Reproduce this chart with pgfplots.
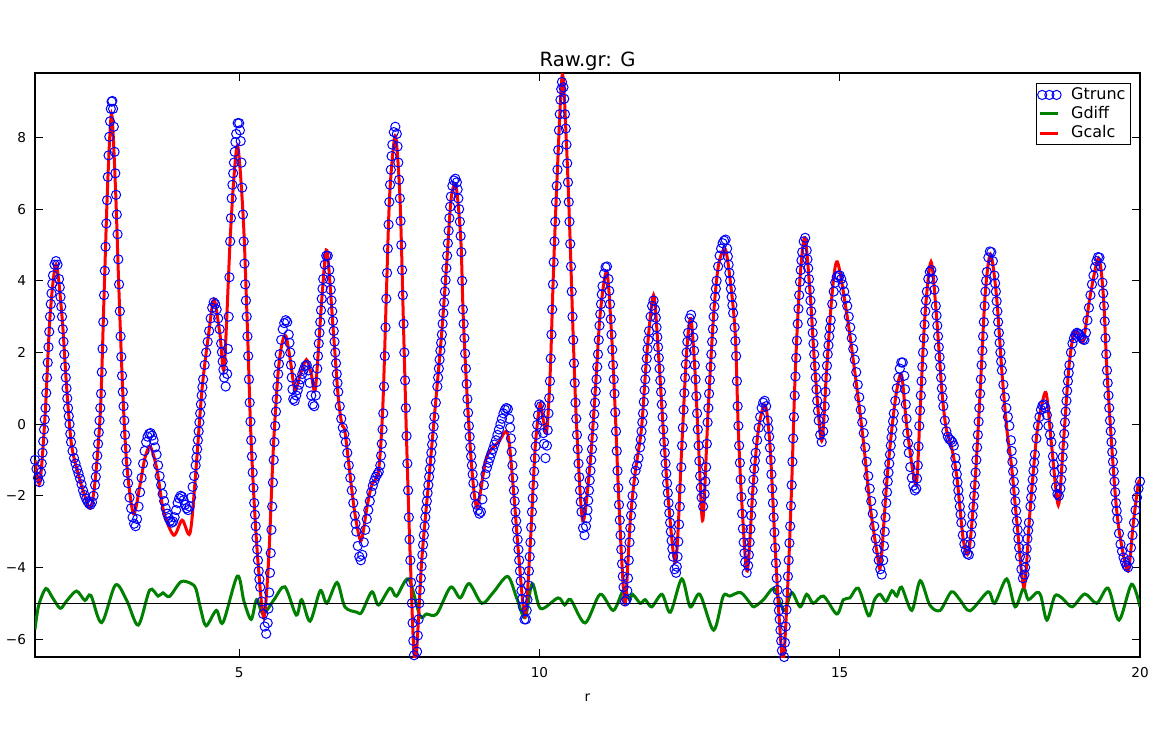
\documentclass[border=0pt]{standalone}
\usepackage{fontspec}
\setmainfont{DejaVu Sans}
\usepackage{pgfplots}
\usepackage{pgfplotstable}
\pgfplotsset{compat=1.18}

\definecolor{mplblue}{rgb}{0,0,1}
\definecolor{mplgreen}{rgb}{0,0.5,0}
\definecolor{mplred}{rgb}{1,0,0}

\pgfplotsset{
    circlegend/.style={legend image code/.code={\draw[##1, only marks] plot coordinates {(0.9bp,0bp) (4.5bp,0bp) (8.1bp,0bp)};}},
    linelegend/.style={legend image code/.code={\draw[##1] (0bp,0bp) -- (9bp,0bp);}},
}

% Gtrunc on a 0.025 grid
\pgfplotstableread{
r G
1.600 -1.00
1.625 -1.25
1.650 -1.50
1.675 -1.62
1.700 -1.35
1.725 -0.80
1.750 -0.15
1.775 0.45
1.800 1.30
1.825 2.15
1.850 3.00
1.875 3.65
1.900 4.15
1.925 4.45
1.950 4.55
1.975 4.45
2.000 4.05
2.025 3.55
2.050 3.00
2.075 2.30
2.100 1.60
2.125 1.00
2.150 0.45
2.175 0.00
2.200 -0.50
2.225 -0.75
2.250 -0.95
2.275 -1.10
2.300 -1.25
2.325 -1.38
2.350 -1.52
2.375 -1.68
2.400 -1.85
2.425 -1.98
2.450 -2.08
2.475 -2.16
2.500 -2.22
2.525 -2.25
2.550 -2.18
2.575 -2.00
2.600 -1.70
2.625 -1.20
2.650 -0.55
2.675 0.10
2.700 0.85
2.725 2.10
2.750 3.60
2.775 4.95
2.800 6.25
2.825 7.50
2.850 8.45
2.875 9.00
2.900 8.80
2.925 7.60
2.950 6.40
2.975 5.30
3.000 3.90
3.025 2.45
3.050 1.35
3.075 0.50
3.100 -0.30
3.125 -1.05
3.150 -1.65
3.175 -2.05
3.200 -2.35
3.225 -2.60
3.250 -2.78
3.275 -2.85
3.300 -2.65
3.325 -2.30
3.350 -1.90
3.375 -1.50
3.400 -1.10
3.425 -0.75
3.450 -0.50
3.475 -0.35
3.500 -0.27
3.525 -0.25
3.550 -0.32
3.575 -0.45
3.600 -0.65
3.625 -0.85
3.650 -1.15
3.675 -1.45
3.700 -1.70
3.725 -1.95
3.750 -2.15
3.775 -2.35
3.800 -2.50
3.825 -2.62
3.850 -2.70
3.875 -2.75
3.900 -2.72
3.925 -2.60
3.950 -2.40
3.975 -2.20
4.000 -2.07
4.025 -2.00
4.050 -2.03
4.075 -2.12
4.100 -2.25
4.125 -2.35
4.150 -2.40
4.175 -2.30
4.200 -2.05
4.225 -1.75
4.250 -1.45
4.275 -1.15
4.300 -0.70
4.325 -0.20
4.350 0.30
4.375 0.80
4.400 1.25
4.425 1.65
4.450 2.00
4.475 2.30
4.500 2.60
4.525 2.95
4.550 3.25
4.575 3.40
4.600 3.35
4.625 3.20
4.650 2.95
4.675 2.65
4.700 2.25
4.725 1.75
4.750 1.30
4.775 1.05
4.800 1.40
4.825 3.00
4.850 5.10
4.875 6.30
4.900 7.00
4.925 7.60
4.950 8.10
4.975 8.40
5.000 8.40
5.025 7.90
5.050 6.60
5.075 5.10
5.100 3.90
5.125 3.00
5.150 1.90
5.175 0.60
5.200 -0.45
5.225 -1.35
5.250 -2.20
5.275 -2.85
5.300 -3.50
5.325 -4.10
5.350 -4.55
5.375 -4.95
5.400 -5.30
5.425 -5.65
5.450 -5.85
5.475 -5.55
5.500 -4.70
5.525 -3.60
5.550 -2.30
5.575 -1.00
5.600 -0.05
5.625 0.70
5.650 1.40
5.675 1.95
5.700 2.35
5.725 2.65
5.750 2.82
5.775 2.90
5.800 2.85
5.825 2.50
5.850 2.00
5.875 1.30
5.900 0.70
5.925 0.65
5.950 0.80
5.975 0.95
6.000 1.10
6.025 1.25
6.050 1.40
6.075 1.52
6.100 1.62
6.125 1.65
6.150 1.50
6.175 1.15
6.200 0.80
6.225 0.55
6.250 0.50
6.275 0.80
6.300 1.55
6.325 2.25
6.350 2.85
6.375 3.50
6.400 4.05
6.425 4.45
6.450 4.70
6.475 4.70
6.500 4.30
6.525 3.75
6.550 3.15
6.575 2.60
6.600 2.00
6.625 1.40
6.650 0.90
6.675 0.50
6.700 0.15
6.725 -0.10
6.750 -0.28
6.775 -0.50
6.800 -0.80
6.825 -1.15
6.850 -1.50
6.875 -1.85
6.900 -2.20
6.925 -2.55
6.950 -3.00
6.975 -3.40
7.000 -3.70
7.025 -3.80
7.050 -3.65
7.075 -3.30
7.100 -2.95
7.125 -2.65
7.150 -2.40
7.175 -2.15
7.200 -1.90
7.225 -1.72
7.250 -1.58
7.275 -1.47
7.300 -1.40
7.325 -1.33
7.350 -1.15
7.375 -0.55
7.400 0.30
7.425 1.90
7.450 3.50
7.475 4.90
7.500 6.20
7.525 7.10
7.550 7.80
7.575 8.15
7.600 8.30
7.625 8.10
7.650 7.30
7.675 6.30
7.700 5.00
7.725 3.60
7.750 2.00
7.775 0.45
7.800 -1.10
7.825 -2.60
7.850 -3.80
7.875 -5.00
7.900 -6.05
7.925 -6.75
7.950 -6.70
7.975 -5.90
8.000 -5.00
8.025 -4.30
8.050 -3.65
8.075 -3.10
8.100 -2.60
8.125 -2.15
8.150 -1.70
8.175 -1.25
8.200 -0.80
8.225 -0.35
8.250 0.20
8.275 0.60
8.300 1.05
8.325 1.55
8.350 2.05
8.375 2.50
8.400 3.10
8.425 3.70
8.450 4.35
8.475 5.05
8.500 5.75
8.525 6.35
8.550 6.65
8.575 6.80
8.600 6.85
8.625 6.75
8.650 6.30
8.675 5.65
8.700 4.80
8.725 3.20
8.750 2.40
8.775 1.55
8.800 0.70
8.825 -0.05
8.850 -0.65
8.875 -1.15
8.900 -1.65
8.925 -2.00
8.950 -2.25
8.975 -2.40
9.000 -2.50
9.025 -2.45
9.050 -2.10
9.075 -1.70
9.100 -1.40
9.125 -1.22
9.150 -1.08
9.175 -0.95
9.200 -0.82
9.225 -0.70
9.250 -0.57
9.275 -0.45
9.300 -0.30
9.325 -0.15
9.350 0.00
9.375 0.15
9.400 0.30
9.425 0.40
9.450 0.45
9.475 0.42
9.500 0.15
9.525 -0.40
9.550 -1.15
9.575 -1.85
9.600 -2.45
9.625 -2.95
9.650 -3.50
9.675 -4.10
9.700 -4.65
9.725 -5.10
9.750 -5.45
9.775 -5.45
9.800 -4.90
9.825 -4.10
9.850 -3.30
9.875 -2.45
9.900 -1.70
9.925 -0.95
9.950 -0.30
9.975 0.25
10.000 0.55
10.025 0.50
10.050 0.10
10.075 -0.55
10.100 -0.95
10.125 -0.60
10.150 0.30
10.175 1.20
10.200 2.50
10.225 3.90
10.250 5.10
10.275 6.20
10.300 7.10
10.325 8.20
10.350 9.05
10.375 9.55
10.400 9.40
10.425 8.65
10.450 7.80
10.475 6.75
10.500 5.65
10.525 4.40
10.550 3.00
10.575 1.70
10.600 0.60
10.625 -0.30
10.650 -1.10
10.675 -1.85
10.700 -2.45
10.725 -2.90
10.750 -3.10
10.775 -2.85
10.800 -2.40
10.825 -1.85
10.850 -1.30
10.875 -0.70
10.900 -0.05
10.925 0.60
10.950 1.25
10.975 1.95
11.000 2.75
11.025 3.35
11.050 3.85
11.075 4.20
11.100 4.38
11.125 4.40
11.150 4.05
11.175 3.35
11.200 2.50
11.225 1.65
11.250 0.85
11.275 -0.20
11.300 -1.30
11.325 -2.25
11.350 -3.10
11.375 -3.90
11.400 -4.55
11.425 -4.95
11.450 -4.90
11.475 -4.30
11.500 -3.30
11.525 -2.55
11.550 -2.00
11.575 -1.60
11.600 -1.30
11.625 -1.15
11.650 -0.95
11.675 -0.65
11.700 -0.20
11.725 0.30
11.750 0.95
11.775 1.55
11.800 2.10
11.825 2.60
11.850 3.00
11.875 3.30
11.900 3.45
11.925 3.20
11.950 2.70
11.975 2.15
12.000 1.55
12.025 0.90
12.050 0.20
12.075 -0.50
12.100 -1.10
12.125 -1.65
12.150 -2.20
12.175 -2.75
12.200 -3.25
12.225 -3.70
12.250 -4.05
12.275 -4.15
12.300 -3.70
12.325 -2.80
12.350 -1.80
12.375 -0.60
12.400 0.40
12.425 1.30
12.450 2.00
12.475 2.55
12.500 2.95
12.525 3.05
12.550 2.75
12.575 2.05
12.600 1.25
12.625 0.30
12.650 -0.60
12.675 -1.45
12.700 -2.05
12.725 -2.30
12.750 -1.95
12.775 -1.20
12.800 0.05
12.825 0.85
12.850 1.60
12.875 2.30
12.900 3.00
12.925 3.55
12.950 4.00
12.975 4.40
13.000 4.70
13.025 4.90
13.050 5.05
13.075 5.12
13.100 5.15
13.125 4.90
13.150 4.45
13.175 4.00
13.200 3.55
13.225 3.10
13.250 2.70
13.275 1.90
13.300 0.50
13.325 -0.60
13.350 -1.55
13.375 -2.50
13.400 -3.30
13.425 -3.85
13.450 -4.15
13.475 -3.95
13.500 -3.30
13.525 -2.55
13.550 -1.85
13.575 -1.25
13.600 -0.80
13.625 -0.45
13.650 -0.10
13.675 0.20
13.700 0.45
13.725 0.60
13.750 0.65
13.775 0.50
13.800 0.10
13.825 -0.35
13.850 -1.00
13.875 -1.80
13.900 -2.60
13.925 -3.45
13.950 -4.30
13.975 -4.95
14.000 -5.45
14.025 -6.05
14.050 -6.55
14.075 -6.50
14.100 -5.65
14.125 -4.70
14.150 -3.80
14.175 -2.85
14.200 -1.70
14.225 -0.40
14.250 0.80
14.275 1.85
14.300 2.80
14.325 3.60
14.350 4.30
14.375 4.80
14.400 5.10
14.425 5.20
14.450 4.85
14.475 4.35
14.500 3.75
14.525 3.15
14.550 2.55
14.575 1.95
14.600 1.30
14.625 0.65
14.650 0.10
14.675 -0.30
14.700 -0.50
14.725 -0.20
14.750 0.50
14.775 1.30
14.800 1.95
14.825 2.45
14.850 2.90
14.875 3.35
14.900 3.70
14.925 3.95
14.950 4.10
14.975 4.15
15.000 4.15
15.025 4.05
15.050 3.90
15.075 3.70
15.100 3.50
15.125 3.30
15.150 3.00
15.175 2.70
15.200 2.40
15.225 2.10
15.250 1.80
15.275 1.45
15.300 1.10
15.325 0.75
15.350 0.40
15.375 0.05
15.400 -0.25
15.425 -0.65
15.450 -1.05
15.475 -1.45
15.500 -1.80
15.525 -2.15
15.550 -2.50
15.575 -2.85
15.600 -3.20
15.625 -3.50
15.650 -3.80
15.675 -4.05
15.700 -4.20
15.725 -3.80
15.750 -3.00
15.775 -2.20
15.800 -1.60
15.825 -1.10
15.850 -0.60
15.875 -0.15
15.900 0.30
15.925 0.65
15.950 1.00
15.975 1.30
16.000 1.55
16.025 1.72
16.050 1.72
16.075 1.35
16.100 0.55
16.125 -0.25
16.150 -0.80
16.175 -1.20
16.200 -1.50
16.225 -1.72
16.250 -1.85
16.275 -1.80
16.300 -1.15
16.325 -0.05
16.350 0.80
16.375 1.60
16.400 2.40
16.425 3.15
16.450 3.70
16.475 4.05
16.500 4.25
16.525 4.30
16.550 4.05
16.575 3.75
16.600 3.30
16.625 2.75
16.650 2.15
16.675 1.60
16.700 1.00
16.725 0.50
16.750 0.10
16.775 -0.20
16.800 -0.35
16.825 -0.42
16.850 -0.45
16.875 -0.50
16.900 -0.60
16.925 -0.95
16.950 -1.40
16.975 -1.85
17.000 -2.30
17.025 -2.75
17.050 -3.10
17.075 -3.35
17.100 -3.52
17.125 -3.62
17.150 -3.65
17.175 -3.35
17.200 -2.80
17.225 -2.30
17.250 -1.70
17.275 -1.00
17.300 -0.30
17.325 0.45
17.350 1.25
17.375 2.05
17.400 2.85
17.425 3.70
17.450 4.25
17.475 4.65
17.500 4.82
17.525 4.80
17.550 4.55
17.575 4.15
17.600 3.70
17.625 3.15
17.650 2.55
17.675 2.00
17.700 1.50
17.725 1.10
17.750 0.75
17.775 0.45
17.800 0.20
17.825 -0.05
17.850 -0.45
17.875 -1.05
17.900 -1.60
17.925 -2.15
17.950 -2.70
17.975 -3.20
18.000 -3.70
18.025 -4.05
18.050 -4.30
18.075 -4.20
18.100 -3.75
18.125 -3.20
18.150 -2.75
18.175 -2.30
18.200 -1.80
18.225 -1.30
18.250 -0.85
18.275 -0.40
18.300 -0.05
18.325 0.20
18.350 0.40
18.375 0.52
18.400 0.55
18.425 0.45
18.450 0.25
18.475 -0.05
18.500 -0.30
18.525 -0.50
18.550 -0.90
18.575 -1.35
18.600 -1.75
18.625 -1.95
18.650 -2.00
18.675 -1.80
18.700 -1.25
18.725 -0.60
18.750 0.05
18.775 0.65
18.800 1.20
18.825 1.65
18.850 2.00
18.875 2.25
18.900 2.40
18.925 2.50
18.950 2.55
18.975 2.52
19.000 2.48
19.025 2.42
19.050 2.37
19.075 2.35
19.100 2.55
19.125 2.90
19.150 3.25
19.175 3.60
19.200 3.90
19.225 4.15
19.250 4.38
19.275 4.55
19.300 4.66
19.325 4.65
19.350 4.40
19.375 3.95
19.400 3.30
19.425 2.40
19.450 1.50
19.475 0.80
19.500 0.10
19.525 -0.50
19.550 -1.05
19.575 -1.60
19.600 -2.20
19.625 -2.65
19.650 -3.05
19.675 -3.35
19.700 -3.55
19.725 -3.72
19.750 -3.85
19.775 -3.95
19.800 -4.00
19.825 -3.80
19.850 -3.45
19.875 -3.10
19.900 -2.75
19.925 -2.40
19.950 -2.05
19.975 -1.80
20.000 -1.60
}\gtrunc

% extra Gtrunc samples read on the steep flanks (half-way between grid rows)
\pgfplotstableread{
r G
1.7125 -1.10
1.7375 -0.48
1.7625 0.13
1.7875 0.87
1.8125 1.72
1.8375 2.58
1.8625 3.35
1.8875 3.92
2.0125 3.82
2.0375 3.28
2.0625 2.65
2.0875 1.95
2.1125 1.30
2.1375 0.72
2.1625 0.22
2.1875 -0.27
2.6125 -1.47
2.6375 -0.88
2.6625 -0.23
2.6875 0.45
2.7125 1.45
2.7375 2.85
2.7625 4.28
2.7875 5.60
2.8125 6.90
2.8375 8.02
2.8625 8.80
2.8875 9.02
2.9125 8.30
2.9375 7.00
2.9625 5.85
2.9875 4.60
3.0125 3.15
3.0375 1.88
3.0625 0.90
3.0875 0.10
3.1125 -0.68
3.1375 -1.36
4.2875 -0.93
4.3125 -0.45
4.3375 0.05
4.3625 0.55
4.3875 1.03
4.7125 2.01
4.7375 1.52
4.8125 2.10
4.8375 4.10
4.8625 5.75
4.8875 6.68
4.9125 7.30
4.9375 7.87
5.0125 8.20
5.0375 7.30
5.0625 5.85
5.0875 4.48
5.1125 3.45
5.1375 2.45
5.1625 1.25
5.1875 0.07
5.2125 -0.90
5.2375 -1.78
5.2625 -2.53
5.2875 -3.18
5.3125 -3.80
5.3375 -4.33
5.4875 -5.15
5.5125 -4.15
5.5375 -2.95
5.5625 -1.63
5.5875 -0.50
5.6125 0.35
5.6375 1.05
5.6625 1.68
5.8375 2.27
5.8625 1.65
5.8875 0.97
6.2875 1.17
6.3125 1.90
6.3375 2.55
6.3625 3.18
6.3875 3.78
6.5125 4.03
6.5375 3.45
6.5625 2.88
6.5875 2.30
6.6125 1.70
6.6375 1.15
6.9375 -2.78
7.3625 -0.88
7.3875 -0.15
7.4125 1.05
7.4375 2.70
7.4625 4.22
7.4875 5.57
7.5125 6.68
7.5375 7.48
7.6375 7.75
7.6625 6.82
7.6875 5.67
7.7125 4.30
7.7375 2.80
7.7625 1.22
7.7875 -0.33
7.8125 -1.85
7.8375 -3.22
7.8625 -4.42
7.8875 -5.55
7.9125 -6.45
7.9625 -6.35
7.9875 -5.45
8.0125 -4.63
8.0375 -3.97
8.0625 -3.37
8.0875 -2.85
8.1125 -2.37
8.1375 -1.92
8.1625 -1.47
8.1875 -1.02
8.2125 -0.57
8.2375 -0.07
8.3125 1.30
8.3375 1.80
8.3625 2.27
8.3875 2.80
8.4125 3.40
8.4375 4.02
8.4625 4.70
8.4875 5.40
8.5125 6.07
8.6375 6.55
8.6625 6.00
8.6875 5.25
8.7125 4.00
8.7375 2.80
8.7625 1.97
8.7875 1.12
8.8125 0.32
8.8375 -0.35
8.8625 -0.90
8.8875 -1.40
9.5125 -0.10
9.5375 -0.77
9.5625 -1.50
9.5875 -2.15
9.6125 -2.70
9.6375 -3.22
9.6625 -3.80
9.6875 -4.38
9.7125 -4.88
9.7875 -5.20
9.8125 -4.50
9.8375 -3.70
9.8625 -2.88
9.8875 -2.07
9.9125 -1.32
9.9375 -0.62
9.9625 -0.02
10.0625 -0.25
10.1375 -0.17
10.1625 0.73
10.1875 1.83
10.2125 3.20
10.2375 4.52
10.2625 5.65
10.2875 6.65
10.3125 7.65
10.3375 8.65
10.3625 9.35
10.4125 9.08
10.4375 8.25
10.4625 7.28
10.4875 6.20
10.5125 5.03
10.5375 3.70
10.5625 2.35
10.5875 1.15
10.6125 0.15
10.6375 -0.70
10.6625 -1.48
10.6875 -2.17
10.7875 -2.63
10.8125 -2.13
10.8375 -1.57
10.8625 -1.00
10.8875 -0.38
10.9125 0.28
10.9375 0.92
10.9625 1.60
10.9875 2.35
11.0125 3.07
11.0375 3.62
11.1625 3.72
11.1875 2.93
11.2125 2.08
11.2375 1.25
11.2625 0.33
11.2875 -0.75
11.3125 -1.78
11.3375 -2.68
11.3625 -3.50
11.3875 -4.25
11.4625 -4.65
11.4875 -3.80
11.5125 -2.90
11.5375 -2.27
11.6875 -0.43
11.7125 0.05
11.7375 0.62
11.7625 1.25
11.7875 1.83
11.8125 2.35
11.9375 2.97
11.9625 2.43
11.9875 1.85
12.0125 1.22
12.0375 0.55
12.0625 -0.15
12.0875 -0.80
12.1125 -1.38
12.1375 -1.92
12.1625 -2.48
12.1875 -3.00
12.2125 -3.48
12.2875 -3.98
12.3125 -3.28
12.3375 -2.30
12.3625 -1.20
12.3875 -0.10
12.4125 0.87
12.4375 1.67
12.4625 2.30
12.5625 2.42
12.5875 1.65
12.6125 0.78
12.6375 -0.15
12.6625 -1.03
12.6875 -1.77
12.7625 -1.60
12.7875 -0.55
12.8125 0.45
12.8375 1.23
12.8625 1.95
12.8875 2.65
12.9125 3.28
12.9375 3.78
13.1375 4.68
13.1625 4.22
13.1875 3.78
13.2125 3.32
13.2625 2.32
13.2875 1.20
13.3125 -0.05
13.3375 -1.08
13.3625 -2.03
13.3875 -2.92
13.4125 -3.60
13.4875 -3.65
13.5125 -2.93
13.5375 -2.20
13.5625 -1.55
13.5875 -1.02
13.8125 -0.12
13.8375 -0.66
13.8625 -1.40
13.8875 -2.20
13.9125 -3.02
13.9375 -3.88
13.9625 -4.63
13.9875 -5.20
14.0125 -5.75
14.0375 -6.32
14.0875 -6.10
14.1125 -5.18
14.1375 -4.25
14.1625 -3.32
14.1875 -2.28
14.2125 -1.05
14.2375 0.20
14.2625 1.33
14.2875 2.33
14.3125 3.22
14.3375 3.97
14.3625 4.57
14.4625 4.60
14.4875 4.05
14.5125 3.45
14.5375 2.85
14.5625 2.25
14.5875 1.62
14.6125 0.97
14.6375 0.37
14.7375 0.15
14.7625 0.90
14.7875 1.63
14.8125 2.20
14.8375 2.68
15.7375 -3.40
15.7625 -2.60
15.7875 -1.90
15.8125 -1.35
15.8375 -0.85
15.8625 -0.37
15.8875 0.08
16.0875 0.97
16.1125 0.15
16.1375 -0.53
16.2875 -1.52
16.3125 -0.62
16.3375 0.38
16.3625 1.20
16.3875 2.00
16.4125 2.78
16.4375 3.45
16.6125 3.03
16.6375 2.45
16.6625 1.87
16.6875 1.30
16.7125 0.75
16.9375 -1.17
16.9625 -1.62
16.9875 -2.07
17.0125 -2.52
17.1875 -3.08
17.2125 -2.55
17.2375 -2.00
17.2625 -1.35
17.2875 -0.65
17.3125 0.07
17.3375 0.85
17.3625 1.65
17.3875 2.45
17.4125 3.30
17.4375 4.00
17.5875 3.93
17.6125 3.43
17.6375 2.85
17.6625 2.27
17.6875 1.75
17.8625 -0.75
17.8875 -1.32
17.9125 -1.87
17.9375 -2.42
17.9625 -2.95
17.9875 -3.45
18.0875 -4.00
18.1125 -3.48
18.1375 -2.97
18.1875 -2.05
18.2125 -1.55
18.2375 -1.07
18.5625 -1.12
18.6875 -1.55
18.7125 -0.92
18.7375 -0.27
18.7625 0.35
18.7875 0.93
18.8125 1.43
19.3875 3.65
19.4125 2.87
19.4375 1.95
19.4625 1.15
19.4875 0.45
19.5125 -0.20
19.5375 -0.78
19.5625 -1.32
19.5875 -1.90
19.6125 -2.42
}\gtruncmid

\begin{document}
\begin{tikzpicture}
% page = 1168x730 px at 0.5bp per px
\path[use as bounding box] (-17.5bp,-36.5bp) rectangle (566.5bp,328.5bp);
\begin{axis}[
    at={(0,0)}, anchor=south west,
    scale only axis, width=552.5bp, height=292bp,
    xmin=1.6, xmax=20, ymin=-6.5, ymax=9.8,
    xtick={5,10,15,20}, xticklabels={5,10,15,20},
    ytick={-6,-4,-2,0,2,4,6,8}, yticklabels={−6,−4,−2,0,2,4,6,8},
    minor tick num=0,
    tick align=inside, major tick length=4bp,
    tick style={black, line width=0.5bp},
    axis line style={line width=0.6bp},
    ticklabel style={font=\fontsize{6.8bp}{8bp}\selectfont},
    xticklabel style={anchor=base, yshift=-10bp},
    yticklabel style={xshift=-1bp},
    every axis title shift=0pt,
    title={Raw.gr: G},
    title style={font=\fontsize{9.8bp}{11.5bp}\selectfont, at={(0.5,1)}, anchor=base, yshift=3.5bp},
    xlabel={r},
    xlabel style={font=\fontsize{6.8bp}{8bp}\selectfont, at={(axis description cs:0.5,0)}, anchor=base, yshift=-22bp},
    legend cell align=left,
    legend style={at={(1,1)}, anchor=north east, xshift=-4.5bp, yshift=-5bp,
        font=\fontsize{8bp}{9.6bp}\selectfont, draw=black, line width=0.5bp,
        inner xsep=0.5bp, inner ysep=1bp, row sep=0bp, column sep=3bp,
        nodes={inner xsep=2bp, inner ysep=1bp}},
]
% Gtrunc (circles)
\addplot[only marks, mark=o, mark size=2.3bp, mplblue, mark options={line width=0.5bp}, circlegend]
    table[x=r, y=G] {\gtrunc};
\addlegendentry{Gtrunc}
\addplot[only marks, mark=o, mark size=2.3bp, mplblue, mark options={line width=0.5bp}, forget plot]
    table[x=r, y=G] {\gtruncmid};
% Gdiff (offset by -5)
\addplot[mplgreen, line width=1.5bp, smooth, no marks, linelegend]
    coordinates {
    (1.60,-5.73) (1.66,-5.07) (1.78,-4.59) (1.89,-4.84) (2.02,-5.14) (2.12,-4.95)
    (2.29,-4.66) (2.43,-4.92) (2.53,-4.78) (2.71,-5.54) (2.94,-4.49) (3.13,-4.93)
    (3.32,-5.61) (3.51,-4.63) (3.65,-4.8) (3.73,-4.71) (3.84,-4.81) (4.03,-4.4)
    (4.20,-4.45) (4.28,-4.6) (4.36,-5.17) (4.45,-5.63) (4.62,-5.2) (4.73,-5.54)
    (4.97,-4.24) (5.08,-4.95) (5.20,-5.45) (5.29,-4.9) (5.40,-5.3) (5.58,-4.9)
    (5.76,-4.54) (5.95,-5.33) (6.04,-4.9) (6.18,-5.5) (6.35,-4.65) (6.46,-5.0)
    (6.63,-4.42) (6.76,-5.1) (6.96,-5.25) (7.04,-5.25) (7.21,-4.68) (7.32,-5.05)
    (7.51,-4.58) (7.62,-4.8) (7.82,-4.32) (8.01,-5.35) (8.12,-5.3) (8.29,-5.3)
    (8.52,-4.55) (8.68,-4.85) (8.83,-4.45) (9.04,-5.0) (9.23,-4.7) (9.47,-4.25)
    (9.62,-4.85) (9.76,-5.4) (9.88,-4.45) (10.02,-5.15) (10.31,-4.85) (10.42,-5.05)
    (10.52,-4.9) (10.76,-5.55) (11.01,-4.75) (11.23,-5.2) (11.40,-4.63) (11.50,-4.9)
    (11.55,-4.75) (11.68,-5.0) (11.76,-4.9) (11.87,-5.1) (12.04,-4.75) (12.18,-5.25)
    (12.37,-4.32) (12.51,-5.1) (12.67,-4.75) (12.90,-5.75) (13.06,-4.8) (13.17,-4.8)
    (13.35,-4.7) (13.51,-5.0) (13.57,-5.1) (13.73,-4.9) (13.90,-4.58) (14.01,-5.0)
    (14.09,-5.2) (14.20,-4.7) (14.34,-5.1) (14.45,-4.75) (14.56,-5.0) (14.73,-4.8)
    (14.95,-5.3) (15.06,-4.9) (15.17,-4.85) (15.31,-4.58) (15.48,-5.35) (15.58,-4.9)
    (15.67,-4.75) (15.77,-4.95) (15.87,-4.65) (15.95,-4.8) (16.03,-4.55) (16.20,-5.2)
    (16.34,-4.37) (16.50,-5.05) (16.67,-5.2) (16.86,-4.68) (17.00,-4.9) (17.17,-5.21)
    (17.47,-4.68) (17.58,-5.0) (17.78,-4.32) (17.92,-5.1) (18.06,-4.58) (18.14,-4.9)
    (18.28,-4.7) (18.35,-4.8) (18.45,-5.47) (18.58,-4.8) (18.70,-4.85) (18.87,-5.1)
    (19.08,-4.74) (19.28,-5.0) (19.47,-4.58) (19.65,-5.47) (19.86,-4.47) (20.00,-5.1)
    };
\addlegendentry{Gdiff}
% Gcalc
\addplot[mplred, line width=1.5bp, smooth, no marks, linelegend]
    coordinates {
    (1.60,-1.0) (1.68,-1.65) (1.77,0.3) (1.85,3.0) (1.95,4.45) (2.05,3.0)
    (2.13,0.95) (2.21,-0.6) (2.33,-1.45) (2.41,-1.9) (2.52,-2.35) (2.60,-1.6)
    (2.69,0.4) (2.75,3.6) (2.81,6.7) (2.875,8.65) (2.94,6.6) (2.99,4.1)
    (3.06,0.95) (3.13,-1.16) (3.24,-2.5) (3.35,-1.68) (3.43,-0.95) (3.52,-0.63)
    (3.63,-1.26) (3.74,-2.42) (3.91,-3.1) (4.05,-2.68) (4.18,-3.05) (4.27,-1.5)
    (4.38,0.95) (4.49,2.5) (4.58,3.47) (4.68,2.5) (4.75,1.58) (4.85,5.16)
    (4.92,7.05) (4.98,7.74) (5.07,5.68) (5.14,2.53) (5.19,-0.1) (5.25,-2.2)
    (5.32,-4.0) (5.41,-5.4) (5.49,-3.8) (5.57,-0.63) (5.65,1.47) (5.72,2.3)
    (5.78,2.45) (5.85,1.8) (5.93,0.95) (6.02,1.4) (6.12,1.8) (6.20,1.4)
    (6.27,1.0) (6.38,3.58) (6.46,4.85) (6.57,2.53) (6.65,0.74) (6.71,0.0)
    (6.76,-0.2) (6.85,-1.47) (6.93,-2.53) (7.03,-3.25) (7.13,-2.3) (7.21,-1.68)
    (7.32,-1.3) (7.39,0.42) (7.45,3.58) (7.50,6.2) (7.56,7.6) (7.61,8.0)
    (7.68,6.2) (7.74,2.5) (7.79,-0.6) (7.85,-3.8) (7.93,-6.7) (8.04,-3.8)
    (8.15,-1.7) (8.26,0.4) (8.37,2.5) (8.46,4.6) (8.53,6.3) (8.61,6.65)
    (8.69,5.16) (8.73,3.05) (8.79,0.95) (8.87,-1.16) (8.96,-2.32) (9.10,-1.05)
    (9.18,-0.74) (9.32,-0.5) (9.47,-0.26) (9.57,-1.9) (9.65,-3.58) (9.76,-5.35)
    (9.85,-3.26) (9.93,-0.63) (10.01,0.55) (10.06,0.15) (10.12,-0.21) (10.18,1.47)
    (10.23,4.1) (10.29,6.74) (10.38,9.75) (10.45,7.8) (10.51,5.16) (10.56,2.53)
    (10.62,-0.1) (10.72,-2.7) (10.84,-1.16) (10.93,0.95) (11.01,3.05) (11.12,4.26)
    (11.20,2.53) (11.26,0.42) (11.31,-1.68) (11.37,-3.8) (11.43,-5.0) (11.51,-2.74)
    (11.59,-1.4) (11.70,-0.1) (11.79,2.0) (11.90,3.6) (11.98,2.0) (12.06,-0.1)
    (12.15,-2.2) (12.27,-3.85) (12.37,-0.63) (12.45,2.0) (12.52,2.95) (12.59,1.47)
    (12.65,-0.63) (12.72,-2.68) (12.81,0.42) (12.90,3.05) (12.98,4.42) (13.09,4.89)
    (13.17,4.1) (13.26,2.53) (13.31,-0.1) (13.37,-2.2) (13.46,-4.1) (13.56,-1.68)
    (13.65,-0.1) (13.76,0.53) (13.84,-0.63) (13.92,-3.26) (13.99,-5.37) (14.06,-6.6)
    (14.14,-4.3) (14.20,-1.68) (14.26,1.47) (14.34,4.1) (14.42,5.2) (14.51,3.58)
    (14.59,1.47) (14.70,-0.47) (14.78,1.47) (14.87,3.58) (14.96,4.53) (15.12,3.05)
    (15.25,1.47) (15.39,-0.42) (15.50,-2.2) (15.62,-3.58) (15.68,-3.95) (15.78,-1.68)
    (15.87,-0.1) (15.95,0.95) (16.03,1.37) (16.12,-0.1) (16.27,-1.68) (16.34,0.42)
    (16.42,3.05) (16.52,4.53) (16.61,3.05) (16.70,0.95) (16.77,-0.1) (16.86,-0.63)
    (16.95,-1.47) (17.06,-3.26) (17.15,-3.55) (17.25,-1.68) (17.34,0.95) (17.42,3.58)
    (17.51,4.74) (17.61,3.58) (17.70,1.47) (17.78,-0.1) (17.86,-1.16) (17.95,-2.74)
    (18.07,-4.55) (18.17,-2.4) (18.28,-0.3) (18.36,0.5) (18.44,0.85) (18.53,-0.63)
    (18.64,-2.26) (18.72,-0.63) (18.81,1.47) (18.88,2.4) (18.94,2.6) (19.05,2.3)
    (19.17,3.58) (19.31,4.63) (19.39,3.58) (19.45,1.47) (19.53,-0.63) (19.60,-2.2)
    (19.67,-3.16) (19.80,-4.1) (19.89,-2.74) (19.97,-1.68) (20.00,-1.6)
    };
\addlegendentry{Gcalc}
% zero line of the offset difference curve
\addplot[black, line width=0.6bp, forget plot] coordinates {(1.6,-5) (20,-5)};
\end{axis}
\end{tikzpicture}
\end{document}
